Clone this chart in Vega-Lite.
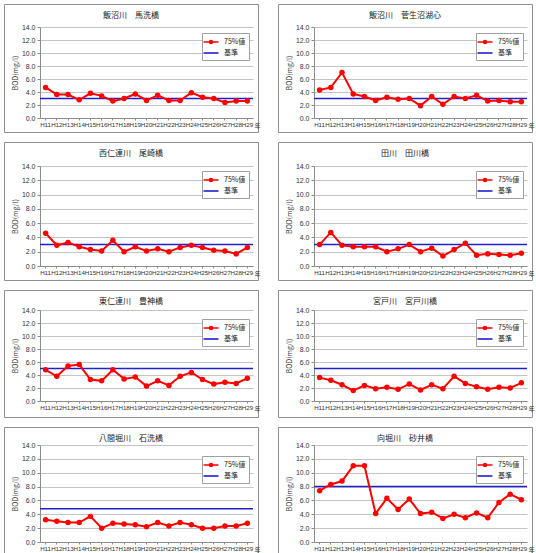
{
"$schema":"https://vega.github.io/schema/vega-lite/v6.json",
"padding":{"left":3,"top":3,"right":0,"bottom":0},
"spacing":8,
"background":"white",
"resolve":{"scale":{"color":"independent"}},
"datasets":{
"std":[
{"p":1,"std":3.0,"from":"H11","to":"H29"},
{"p":2,"std":3.0,"from":"H11","to":"H29"},
{"p":3,"std":3.0,"from":"H11","to":"H29"},
{"p":4,"std":3.0,"from":"H11","to":"H29"},
{"p":5,"std":5.0,"from":"H11","to":"H29"},
{"p":6,"std":5.0,"from":"H11","to":"H29"},
{"p":7,"std":4.8,"from":"H11","to":"H29"},
{"p":8,"std":8.0,"from":"H11","to":"H29"}
],
"bod":[
{"p":1,"year":"H11","v":4.7},{"p":1,"year":"H12","v":3.6},{"p":1,"year":"H13","v":3.6},{"p":1,"year":"H14","v":2.8},{"p":1,"year":"H15","v":3.8},{"p":1,"year":"H16","v":3.4},{"p":1,"year":"H17","v":2.6},{"p":1,"year":"H18","v":3.0},{"p":1,"year":"H19","v":3.7},{"p":1,"year":"H20","v":2.7},{"p":1,"year":"H21","v":3.5},{"p":1,"year":"H22","v":2.7},{"p":1,"year":"H23","v":2.7},{"p":1,"year":"H24","v":3.9},{"p":1,"year":"H25","v":3.2},{"p":1,"year":"H26","v":3.0},{"p":1,"year":"H27","v":2.4},{"p":1,"year":"H28","v":2.6},{"p":1,"year":"H29","v":2.6},
{"p":2,"year":"H11","v":4.3},{"p":2,"year":"H12","v":4.7},{"p":2,"year":"H13","v":7.0},{"p":2,"year":"H14","v":3.7},{"p":2,"year":"H15","v":3.3},{"p":2,"year":"H16","v":2.7},{"p":2,"year":"H17","v":3.2},{"p":2,"year":"H18","v":2.9},{"p":2,"year":"H19","v":3.0},{"p":2,"year":"H20","v":1.9},{"p":2,"year":"H21","v":3.3},{"p":2,"year":"H22","v":2.1},{"p":2,"year":"H23","v":3.3},{"p":2,"year":"H24","v":3.0},{"p":2,"year":"H25","v":3.5},{"p":2,"year":"H26","v":2.6},{"p":2,"year":"H27","v":2.7},{"p":2,"year":"H28","v":2.5},{"p":2,"year":"H29","v":2.5},
{"p":3,"year":"H11","v":4.6},{"p":3,"year":"H12","v":2.9},{"p":3,"year":"H13","v":3.3},{"p":3,"year":"H14","v":2.7},{"p":3,"year":"H15","v":2.3},{"p":3,"year":"H16","v":2.1},{"p":3,"year":"H17","v":3.6},{"p":3,"year":"H18","v":2.0},{"p":3,"year":"H19","v":2.7},{"p":3,"year":"H20","v":2.1},{"p":3,"year":"H21","v":2.4},{"p":3,"year":"H22","v":2.0},{"p":3,"year":"H23","v":2.6},{"p":3,"year":"H24","v":2.9},{"p":3,"year":"H25","v":2.6},{"p":3,"year":"H26","v":2.2},{"p":3,"year":"H27","v":2.1},{"p":3,"year":"H28","v":1.7},{"p":3,"year":"H29","v":2.6},
{"p":4,"year":"H11","v":3.0},{"p":4,"year":"H12","v":4.7},{"p":4,"year":"H13","v":2.9},{"p":4,"year":"H14","v":2.7},{"p":4,"year":"H15","v":2.7},{"p":4,"year":"H16","v":2.7},{"p":4,"year":"H17","v":2.0},{"p":4,"year":"H18","v":2.4},{"p":4,"year":"H19","v":3.0},{"p":4,"year":"H20","v":2.0},{"p":4,"year":"H21","v":2.5},{"p":4,"year":"H22","v":1.4},{"p":4,"year":"H23","v":2.3},{"p":4,"year":"H24","v":3.2},{"p":4,"year":"H25","v":1.5},{"p":4,"year":"H26","v":1.7},{"p":4,"year":"H27","v":1.6},{"p":4,"year":"H28","v":1.5},{"p":4,"year":"H29","v":1.8},
{"p":5,"year":"H11","v":4.8},{"p":5,"year":"H12","v":3.8},{"p":5,"year":"H13","v":5.4},{"p":5,"year":"H14","v":5.6},{"p":5,"year":"H15","v":3.3},{"p":5,"year":"H16","v":3.1},{"p":5,"year":"H17","v":4.8},{"p":5,"year":"H18","v":3.4},{"p":5,"year":"H19","v":3.7},{"p":5,"year":"H20","v":2.3},{"p":5,"year":"H21","v":3.1},{"p":5,"year":"H22","v":2.4},{"p":5,"year":"H23","v":3.8},{"p":5,"year":"H24","v":4.4},{"p":5,"year":"H25","v":3.3},{"p":5,"year":"H26","v":2.6},{"p":5,"year":"H27","v":2.9},{"p":5,"year":"H28","v":2.7},{"p":5,"year":"H29","v":3.5},
{"p":6,"year":"H11","v":3.6},{"p":6,"year":"H12","v":3.2},{"p":6,"year":"H13","v":2.5},{"p":6,"year":"H14","v":1.6},{"p":6,"year":"H15","v":2.4},{"p":6,"year":"H16","v":1.9},{"p":6,"year":"H17","v":2.1},{"p":6,"year":"H18","v":1.8},{"p":6,"year":"H19","v":2.6},{"p":6,"year":"H20","v":1.7},{"p":6,"year":"H21","v":2.5},{"p":6,"year":"H22","v":1.9},{"p":6,"year":"H23","v":3.8},{"p":6,"year":"H24","v":2.7},{"p":6,"year":"H25","v":2.2},{"p":6,"year":"H26","v":1.8},{"p":6,"year":"H27","v":2.1},{"p":6,"year":"H28","v":2.0},{"p":6,"year":"H29","v":2.8},
{"p":7,"year":"H11","v":3.2},{"p":7,"year":"H12","v":3.0},{"p":7,"year":"H13","v":2.8},{"p":7,"year":"H14","v":2.8},{"p":7,"year":"H15","v":3.7},{"p":7,"year":"H16","v":2.0},{"p":7,"year":"H17","v":2.7},{"p":7,"year":"H18","v":2.6},{"p":7,"year":"H19","v":2.5},{"p":7,"year":"H20","v":2.2},{"p":7,"year":"H21","v":2.8},{"p":7,"year":"H22","v":2.3},{"p":7,"year":"H23","v":2.8},{"p":7,"year":"H24","v":2.5},{"p":7,"year":"H25","v":2.0},{"p":7,"year":"H26","v":2.0},{"p":7,"year":"H27","v":2.3},{"p":7,"year":"H28","v":2.3},{"p":7,"year":"H29","v":2.7},
{"p":8,"year":"H11","v":7.4},{"p":8,"year":"H12","v":8.3},{"p":8,"year":"H13","v":8.8},{"p":8,"year":"H14","v":11.0},{"p":8,"year":"H15","v":11.0},{"p":8,"year":"H16","v":4.1},{"p":8,"year":"H17","v":6.3},{"p":8,"year":"H18","v":4.7},{"p":8,"year":"H19","v":6.2},{"p":8,"year":"H20","v":4.1},{"p":8,"year":"H21","v":4.3},{"p":8,"year":"H22","v":3.4},{"p":8,"year":"H23","v":4.0},{"p":8,"year":"H24","v":3.5},{"p":8,"year":"H25","v":4.2},{"p":8,"year":"H26","v":3.5},{"p":8,"year":"H27","v":5.7},{"p":8,"year":"H28","v":6.9},{"p":8,"year":"H29","v":6.1}
]
},
"vconcat":[
{"hconcat":[
{"width":254,"height":128,"title":"飯沼川　馬洗橋","resolve":{"axis":{"y":"independent"}},"layer":[
{"data":{"name":"std"},"transform":[{"filter":"datum.p==1"}],"mark":{"type":"rule","strokeWidth":1.5},"encoding":{"x":{"field":"from","type":"ordinal","bandPosition":0,"title":"年"},"x2":{"field":"to","bandPosition":1},"y":{"field":"std","type":"quantitative","axis":{"orient":"left","offset":0,"grid":true,"labels":false,"domain":false,"ticks":false,"title":null,"values":[0,2,4,6,8,10,12,14]}},"color":{"datum":"基準"}}},
{"data":{"name":"bod"},"transform":[{"filter":"datum.p==1"}],"mark":{"type":"line","strokeWidth":2,"point":{"filled":true,"size":30}},"encoding":{"x":{"field":"year","type":"ordinal","title":"年","scale":{"type":"band","range":[36,249],"paddingInner":0,"paddingOuter":0},"axis":{"offset":-14}},"y":{"field":"v","type":"quantitative","scale":{"domain":[0,14],"range":[114,23],"nice":false},"axis":{"orient":"left","grid":false,"title":"BOD(mg/l)","values":[0,2,4,6,8,10,12,14]}},"color":{"datum":"75%値","scale":{"domain":["75%値","基準"],"range":["#ff0000","#2020d0"]},"legend":{"title":null,"encode":{"symbols":{"update":{"shape":{"signal":"datum.value === '75%値' ? 'M-1.5,0L1.5,0M0.3,0A0.3,0.3,0,1,1,-0.3,0A0.3,0.3,0,1,1,0.3,0' : 'M-1.5,0L1.5,0'"},"fill":{"signal":"datum.value === '75%値' ? '#ff0000' : 'transparent'"}}}}}}}}
]},
{"width":254,"height":128,"title":"飯沼川　菅生沼湖心","resolve":{"axis":{"y":"independent"}},"layer":[
{"data":{"name":"std"},"transform":[{"filter":"datum.p==2"}],"mark":{"type":"rule","strokeWidth":1.5},"encoding":{"x":{"field":"from","type":"ordinal","bandPosition":0,"title":"年"},"x2":{"field":"to","bandPosition":1},"y":{"field":"std","type":"quantitative","axis":{"orient":"left","offset":0,"grid":true,"labels":false,"domain":false,"ticks":false,"title":null,"values":[0,2,4,6,8,10,12,14]}},"color":{"datum":"基準"}}},
{"data":{"name":"bod"},"transform":[{"filter":"datum.p==2"}],"mark":{"type":"line","strokeWidth":2,"point":{"filled":true,"size":30}},"encoding":{"x":{"field":"year","type":"ordinal","title":"年","scale":{"type":"band","range":[36,249],"paddingInner":0,"paddingOuter":0},"axis":{"offset":-14}},"y":{"field":"v","type":"quantitative","scale":{"domain":[0,14],"range":[114,23],"nice":false},"axis":{"orient":"left","grid":false,"title":"BOD(mg/l)","values":[0,2,4,6,8,10,12,14]}},"color":{"datum":"75%値","scale":{"domain":["75%値","基準"],"range":["#ff0000","#2020d0"]},"legend":{"title":null,"encode":{"symbols":{"update":{"shape":{"signal":"datum.value === '75%値' ? 'M-1.5,0L1.5,0M0.3,0A0.3,0.3,0,1,1,-0.3,0A0.3,0.3,0,1,1,0.3,0' : 'M-1.5,0L1.5,0'"},"fill":{"signal":"datum.value === '75%値' ? '#ff0000' : 'transparent'"}}}}}}}}
]}
],"spacing":16,"resolve":{"scale":{"color":"independent"}}},
{"hconcat":[
{"width":254,"height":138,"title":"西仁連川　尾崎橋","resolve":{"axis":{"y":"independent"}},"layer":[
{"data":{"name":"std"},"transform":[{"filter":"datum.p==3"}],"mark":{"type":"rule","strokeWidth":1.5},"encoding":{"x":{"field":"from","type":"ordinal","bandPosition":0,"title":"年"},"x2":{"field":"to","bandPosition":1},"y":{"field":"std","type":"quantitative","axis":{"orient":"left","offset":0,"grid":true,"labels":false,"domain":false,"ticks":false,"title":null,"values":[0,2,4,6,8,10,12,14]}},"color":{"datum":"基準"}}},
{"data":{"name":"bod"},"transform":[{"filter":"datum.p==3"}],"mark":{"type":"line","strokeWidth":2,"point":{"filled":true,"size":30}},"encoding":{"x":{"field":"year","type":"ordinal","title":"年","scale":{"type":"band","range":[36,249],"paddingInner":0,"paddingOuter":0},"axis":{"offset":-14}},"y":{"field":"v","type":"quantitative","scale":{"domain":[0,14],"range":[124,24],"nice":false},"axis":{"orient":"left","grid":false,"title":"BOD(mg/l)","values":[0,2,4,6,8,10,12,14]}},"color":{"datum":"75%値","scale":{"domain":["75%値","基準"],"range":["#ff0000","#2020d0"]},"legend":{"title":null,"encode":{"symbols":{"update":{"shape":{"signal":"datum.value === '75%値' ? 'M-1.5,0L1.5,0M0.3,0A0.3,0.3,0,1,1,-0.3,0A0.3,0.3,0,1,1,0.3,0' : 'M-1.5,0L1.5,0'"},"fill":{"signal":"datum.value === '75%値' ? '#ff0000' : 'transparent'"}}}}}}}}
]},
{"width":254,"height":138,"title":"田川　田川橋","resolve":{"axis":{"y":"independent"}},"layer":[
{"data":{"name":"std"},"transform":[{"filter":"datum.p==4"}],"mark":{"type":"rule","strokeWidth":1.5},"encoding":{"x":{"field":"from","type":"ordinal","bandPosition":0,"title":"年"},"x2":{"field":"to","bandPosition":1},"y":{"field":"std","type":"quantitative","axis":{"orient":"left","offset":0,"grid":true,"labels":false,"domain":false,"ticks":false,"title":null,"values":[0,2,4,6,8,10,12,14]}},"color":{"datum":"基準"}}},
{"data":{"name":"bod"},"transform":[{"filter":"datum.p==4"}],"mark":{"type":"line","strokeWidth":2,"point":{"filled":true,"size":30}},"encoding":{"x":{"field":"year","type":"ordinal","title":"年","scale":{"type":"band","range":[36,249],"paddingInner":0,"paddingOuter":0},"axis":{"offset":-14}},"y":{"field":"v","type":"quantitative","scale":{"domain":[0,14],"range":[124,24],"nice":false},"axis":{"orient":"left","grid":false,"title":"BOD(mg/l)","values":[0,2,4,6,8,10,12,14]}},"color":{"datum":"75%値","scale":{"domain":["75%値","基準"],"range":["#ff0000","#2020d0"]},"legend":{"title":null,"encode":{"symbols":{"update":{"shape":{"signal":"datum.value === '75%値' ? 'M-1.5,0L1.5,0M0.3,0A0.3,0.3,0,1,1,-0.3,0A0.3,0.3,0,1,1,0.3,0' : 'M-1.5,0L1.5,0'"},"fill":{"signal":"datum.value === '75%値' ? '#ff0000' : 'transparent'"}}}}}}}}
]}
],"spacing":16,"resolve":{"scale":{"color":"independent"}}},
{"hconcat":[
{"width":254,"height":127,"title":"東仁連川　豊神橋","resolve":{"axis":{"y":"independent"}},"layer":[
{"data":{"name":"std"},"transform":[{"filter":"datum.p==5"}],"mark":{"type":"rule","strokeWidth":1.5},"encoding":{"x":{"field":"from","type":"ordinal","bandPosition":0,"title":"年"},"x2":{"field":"to","bandPosition":1},"y":{"field":"std","type":"quantitative","axis":{"orient":"left","offset":0,"grid":true,"labels":false,"domain":false,"ticks":false,"title":null,"values":[0,2,4,6,8,10,12,14]}},"color":{"datum":"基準"}}},
{"data":{"name":"bod"},"transform":[{"filter":"datum.p==5"}],"mark":{"type":"line","strokeWidth":2,"point":{"filled":true,"size":30}},"encoding":{"x":{"field":"year","type":"ordinal","title":"年","scale":{"type":"band","range":[36,249],"paddingInner":0,"paddingOuter":0},"axis":{"offset":-16}},"y":{"field":"v","type":"quantitative","scale":{"domain":[0,14],"range":[111,20],"nice":false},"axis":{"orient":"left","grid":false,"title":"BOD(mg/l)","values":[0,2,4,6,8,10,12,14]}},"color":{"datum":"75%値","scale":{"domain":["75%値","基準"],"range":["#ff0000","#2020d0"]},"legend":{"title":null,"encode":{"symbols":{"update":{"shape":{"signal":"datum.value === '75%値' ? 'M-1.5,0L1.5,0M0.3,0A0.3,0.3,0,1,1,-0.3,0A0.3,0.3,0,1,1,0.3,0' : 'M-1.5,0L1.5,0'"},"fill":{"signal":"datum.value === '75%値' ? '#ff0000' : 'transparent'"}}}}}}}}
]},
{"width":254,"height":127,"title":"宮戸川　宮戸川橋","resolve":{"axis":{"y":"independent"}},"layer":[
{"data":{"name":"std"},"transform":[{"filter":"datum.p==6"}],"mark":{"type":"rule","strokeWidth":1.5},"encoding":{"x":{"field":"from","type":"ordinal","bandPosition":0,"title":"年"},"x2":{"field":"to","bandPosition":1},"y":{"field":"std","type":"quantitative","axis":{"orient":"left","offset":0,"grid":true,"labels":false,"domain":false,"ticks":false,"title":null,"values":[0,2,4,6,8,10,12,14]}},"color":{"datum":"基準"}}},
{"data":{"name":"bod"},"transform":[{"filter":"datum.p==6"}],"mark":{"type":"line","strokeWidth":2,"point":{"filled":true,"size":30}},"encoding":{"x":{"field":"year","type":"ordinal","title":"年","scale":{"type":"band","range":[36,249],"paddingInner":0,"paddingOuter":0},"axis":{"offset":-16}},"y":{"field":"v","type":"quantitative","scale":{"domain":[0,14],"range":[111,20],"nice":false},"axis":{"orient":"left","grid":false,"title":"BOD(mg/l)","values":[0,2,4,6,8,10,12,14]}},"color":{"datum":"75%値","scale":{"domain":["75%値","基準"],"range":["#ff0000","#2020d0"]},"legend":{"title":null,"encode":{"symbols":{"update":{"shape":{"signal":"datum.value === '75%値' ? 'M-1.5,0L1.5,0M0.3,0A0.3,0.3,0,1,1,-0.3,0A0.3,0.3,0,1,1,0.3,0' : 'M-1.5,0L1.5,0'"},"fill":{"signal":"datum.value === '75%値' ? '#ff0000' : 'transparent'"}}}}}}}}
]}
],"spacing":16,"resolve":{"scale":{"color":"independent"}}},
{"hconcat":[
{"width":254,"height":127,"title":"八間堀川　石洗橋","resolve":{"axis":{"y":"independent"}},"layer":[
{"data":{"name":"std"},"transform":[{"filter":"datum.p==7"}],"mark":{"type":"rule","strokeWidth":1.5},"encoding":{"x":{"field":"from","type":"ordinal","bandPosition":0,"title":"年"},"x2":{"field":"to","bandPosition":1},"y":{"field":"std","type":"quantitative","axis":{"orient":"left","offset":0,"grid":true,"labels":false,"domain":false,"ticks":false,"title":null,"values":[0,2,4,6,8,10,12,14]}},"color":{"datum":"基準"}}},
{"data":{"name":"bod"},"transform":[{"filter":"datum.p==7"}],"mark":{"type":"line","strokeWidth":2,"point":{"filled":true,"size":30}},"encoding":{"x":{"field":"year","type":"ordinal","title":"年","scale":{"type":"band","range":[36,249],"paddingInner":0,"paddingOuter":0},"axis":{"offset":-12}},"y":{"field":"v","type":"quantitative","scale":{"domain":[0,14],"range":[115,18],"nice":false},"axis":{"orient":"left","grid":false,"title":"BOD(mg/l)","values":[0,2,4,6,8,10,12,14]}},"color":{"datum":"75%値","scale":{"domain":["75%値","基準"],"range":["#ff0000","#2020d0"]},"legend":{"title":null,"encode":{"symbols":{"update":{"shape":{"signal":"datum.value === '75%値' ? 'M-1.5,0L1.5,0M0.3,0A0.3,0.3,0,1,1,-0.3,0A0.3,0.3,0,1,1,0.3,0' : 'M-1.5,0L1.5,0'"},"fill":{"signal":"datum.value === '75%値' ? '#ff0000' : 'transparent'"}}}}}}}}
]},
{"width":254,"height":127,"title":"向堀川　砂井橋","resolve":{"axis":{"y":"independent"}},"layer":[
{"data":{"name":"std"},"transform":[{"filter":"datum.p==8"}],"mark":{"type":"rule","strokeWidth":1.5},"encoding":{"x":{"field":"from","type":"ordinal","bandPosition":0,"title":"年"},"x2":{"field":"to","bandPosition":1},"y":{"field":"std","type":"quantitative","axis":{"orient":"left","offset":0,"grid":true,"labels":false,"domain":false,"ticks":false,"title":null,"values":[0,2,4,6,8,10,12,14]}},"color":{"datum":"基準"}}},
{"data":{"name":"bod"},"transform":[{"filter":"datum.p==8"}],"mark":{"type":"line","strokeWidth":2,"point":{"filled":true,"size":30}},"encoding":{"x":{"field":"year","type":"ordinal","title":"年","scale":{"type":"band","range":[36,249],"paddingInner":0,"paddingOuter":0},"axis":{"offset":-12}},"y":{"field":"v","type":"quantitative","scale":{"domain":[0,14],"range":[115,18],"nice":false},"axis":{"orient":"left","grid":false,"title":"BOD(mg/l)","values":[0,2,4,6,8,10,12,14]}},"color":{"datum":"75%値","scale":{"domain":["75%値","基準"],"range":["#ff0000","#2020d0"]},"legend":{"title":null,"encode":{"symbols":{"update":{"shape":{"signal":"datum.value === '75%値' ? 'M-1.5,0L1.5,0M0.3,0A0.3,0.3,0,1,1,-0.3,0A0.3,0.3,0,1,1,0.3,0' : 'M-1.5,0L1.5,0'"},"fill":{"signal":"datum.value === '75%値' ? '#ff0000' : 'transparent'"}}}}}}}}
]}
],"spacing":16,"resolve":{"scale":{"color":"independent"}}}
],
"config":{
"font":"Noto Sans CJK JP",
"view":{"stroke":"#8f8f8f","strokeWidth":1},
"title":{"fontSize":8,"fontWeight":"normal","anchor":"middle","offset":-16,"color":"#222"},
"axis":{"labelFont":"Liberation Sans","labelFontSize":7,"labelColor":"#333","titleFontSize":7,"titleFontWeight":"normal","titleColor":"#333","domainColor":"#8c8c8c","tickColor":"#8c8c8c","tickSize":3},
"axisY":{"offset":-36,"format":".1f","gridColor":"#c4c4c4","labelPadding":2,"titlePadding":3},
"axisX":{"grid":false,"labelAngle":0,"labelOverlap":false,"labelFontSize":6.2,"labelPadding":1,"tickSize":2,"titleX":250,"titleY":4,"titleAlign":"left","titleBaseline":"top","titleFontSize":6},
"legend":{"orient":"none","legendX":198,"legendY":29,"fillColor":"white","strokeColor":"#a0a0a0","padding":3,"labelFontSize":7,"labelColor":"#222","symbolSize":100,"symbolStrokeWidth":1.6,"rowPadding":0,"labelOffset":7}
}
}
